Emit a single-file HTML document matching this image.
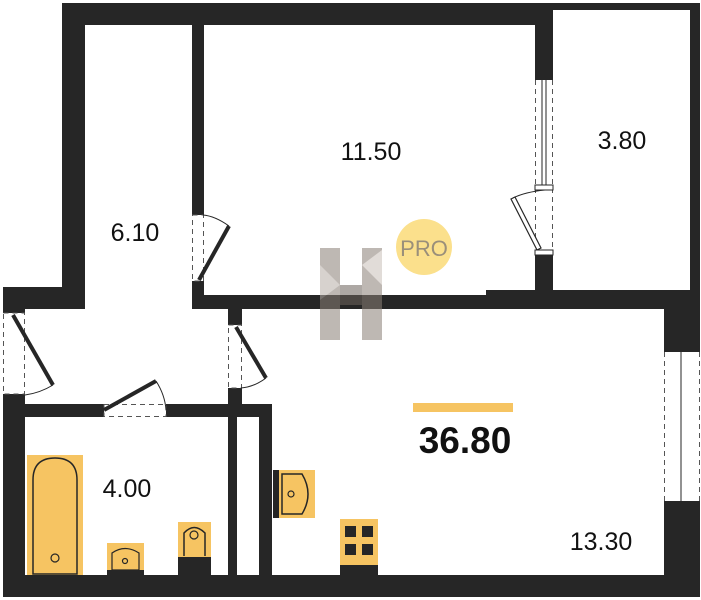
<!DOCTYPE html>
<html><head><meta charset="utf-8"><style>
html,body{margin:0;padding:0;background:#fff;}
svg{display:block;font-family:"Liberation Sans",sans-serif;}
</style></head><body>
<svg width="701" height="600" viewBox="0 0 701 600" xmlns="http://www.w3.org/2000/svg">
<g fill="#262626">
<!-- corridor left outer wall -->
<rect x="62" y="3" width="23" height="306"/>
<rect x="62" y="3" width="490" height="22"/>
<!-- 3.80 room thin outer -->
<rect x="552" y="3" width="148" height="7"/>
<rect x="690" y="3" width="10" height="307"/>
<!-- wall between 11.50 and 3.80 -->
<rect x="535" y="10" width="18" height="68"/>
<rect x="535" y="255" width="18" height="45"/>
<!-- left wall of 11.50 -->
<rect x="192" y="25" width="12" height="188"/>
<rect x="192" y="283" width="12" height="26"/>
<!-- bottom wall of 11.50 / top of 13.30 -->
<rect x="192" y="295" width="361" height="14"/>
<rect x="486" y="290" width="214" height="19"/>
<rect x="664" y="290" width="36" height="60"/>
<rect x="664" y="503" width="36" height="94"/>
<!-- bottom wall -->
<rect x="3" y="575" width="697" height="22"/>
<!-- left lower -->
<rect x="3" y="287" width="82" height="22"/>
<rect x="3" y="398" width="22" height="199"/>
<!-- bathroom top wall -->
<rect x="25" y="404" width="75" height="13"/>
<rect x="170" y="404" width="102" height="13"/>
<!-- corridor/13.30 wall -->
<rect x="228" y="309" width="14" height="14"/>
<rect x="228" y="392" width="14" height="25"/>
<rect x="228" y="404" width="9" height="171"/>
<rect x="259" y="404" width="13" height="171"/>
<!-- jambs -->
<rect x="3" y="309" width="22" height="4"/>
<rect x="3" y="394" width="22" height="4"/>
<rect x="192" y="211" width="12" height="4"/>
<rect x="192" y="281" width="12" height="4"/>
<rect x="228" y="321" width="14" height="4"/>
<rect x="228" y="388" width="14" height="4"/>
<rect x="99" y="404" width="5" height="13"/>
<rect x="166" y="404" width="5" height="13"/>
<rect x="535" y="76" width="18" height="4"/>
<rect x="664" y="348" width="36" height="4"/>
<rect x="664" y="501" width="36" height="4"/>
</g>
<!-- dashed openings -->
<g stroke="#555" stroke-width="1" stroke-dasharray="5,4" fill="none">
<rect x="3.5" y="313" width="21" height="81"/>
<rect x="192.5" y="215" width="11" height="66"/>
<rect x="228.5" y="325" width="13" height="63"/>
<rect x="104" y="404.5" width="62" height="12"/>
<line x1="535.5" y1="80" x2="535.5" y2="255"/>
<line x1="552.5" y1="80" x2="552.5" y2="255"/>
<line x1="664.5" y1="352" x2="664.5" y2="501"/>
<line x1="699.5" y1="352" x2="699.5" y2="501"/>
</g>
<!-- door leaves -->
<g stroke="#262626" stroke-width="4" stroke-linecap="butt">
<line x1="13" y1="315" x2="53" y2="385"/>
<line x1="199" y1="280" x2="229" y2="226"/>
<line x1="236" y1="327" x2="266" y2="378"/>
<line x1="104" y1="410" x2="156" y2="381"/>
</g>
<g stroke="#262626" stroke-width="1" fill="none">
<path d="M53 385 Q40 393 25 395"/>
<path d="M229 226 Q215 216 203 215"/>
<path d="M266 378 Q254 387 241 388"/>
<path d="M156 381 Q165 395 166 410"/>
<path d="M545 190 Q525 192 513 198"/>
<line x1="681" y1="352" x2="681" y2="501"/>
<line x1="542" y1="80" x2="542" y2="185"/>
<line x1="546" y1="80" x2="546" y2="185"/>
</g>
<!-- balcony door -->
<polygon points="511,199 515,197 541,248 537,250" fill="#fff" stroke="#262626" stroke-width="1.2"/>
<rect x="535" y="185" width="18" height="5" fill="#fff" stroke="#262626"/>
<rect x="535" y="250" width="18" height="5" fill="#fff" stroke="#262626"/>
<!-- fixtures -->
<g fill="#f6c462" stroke="#262626" stroke-width="1.2">
<rect x="27" y="455" width="56" height="120" stroke="none"/>
<path d="M33 574 V480 Q33 458 55 458 Q77 458 77 480 V574 Z" fill="none" stroke-width="1.5"/>
<circle cx="55" cy="558" r="4"/>
<rect x="107" y="543" width="37" height="28" stroke="none"/>
<path d="M112 570 V553 Q125 544 139 553 V570 Z" fill="none"/>
<circle cx="125" cy="561" r="2.5"/>
<rect x="178" y="522" width="33" height="35" stroke="none"/>
<path d="M184 556 V533 Q194 522 205 533 V556" fill="none" stroke-width="1.5"/>
<circle cx="194" cy="535" r="4"/>
<rect x="273" y="470" width="42" height="48" stroke="none"/>
<path d="M282 474 H302 Q314 494 302 514 H282 Z" fill="none" stroke-width="1.5"/>
<circle cx="291" cy="494" r="3"/>
<rect x="340" y="519" width="38" height="56" stroke="none"/>
</g>
<g fill="#262626">
<rect x="107" y="570" width="37" height="5"/>
<rect x="178" y="557" width="33" height="18"/>
<rect x="273" y="470" width="6" height="48"/>
<rect x="345" y="526" width="11" height="11"/>
<rect x="362" y="526" width="11" height="11"/>
<rect x="345" y="544" width="11" height="11"/>
<rect x="362" y="544" width="11" height="11"/>
<rect x="340" y="565" width="38" height="10"/>
</g>
<!-- logo -->
<g opacity="0.55">
<rect x="320" y="248" width="20" height="92" fill="#8a7f76"/>
<rect x="362" y="248" width="20" height="92" fill="#8a7f76"/>
<polygon points="340,285 362,285 362,305 340,305" fill="#6b625b"/>
<polygon points="320,265 340,285 320,300" fill="#b8afa7"/>
<polygon points="362,265 382,285 382,250" fill="#c9c1ba"/>
</g>
<circle cx="424" cy="247" r="28" fill="#fbe08c"/>
<text x="424" y="256" font-size="22" fill="#9a8f7a" text-anchor="middle">PRO</text>
<!-- labels -->
<g font-size="25" fill="#111">
<text x="371" y="160" text-anchor="middle">11.50</text>
<text x="622" y="149" text-anchor="middle">3.80</text>
<text x="135" y="241" text-anchor="middle">6.10</text>
<text x="127" y="497" text-anchor="middle">4.00</text>
<text x="601" y="550" text-anchor="middle">13.30</text>
</g>
<rect x="413" y="403" width="100" height="9" fill="#f6c462"/>
<text x="465" y="453" font-size="37" font-weight="bold" fill="#111" text-anchor="middle">36.80</text>
</svg>
</body></html>
